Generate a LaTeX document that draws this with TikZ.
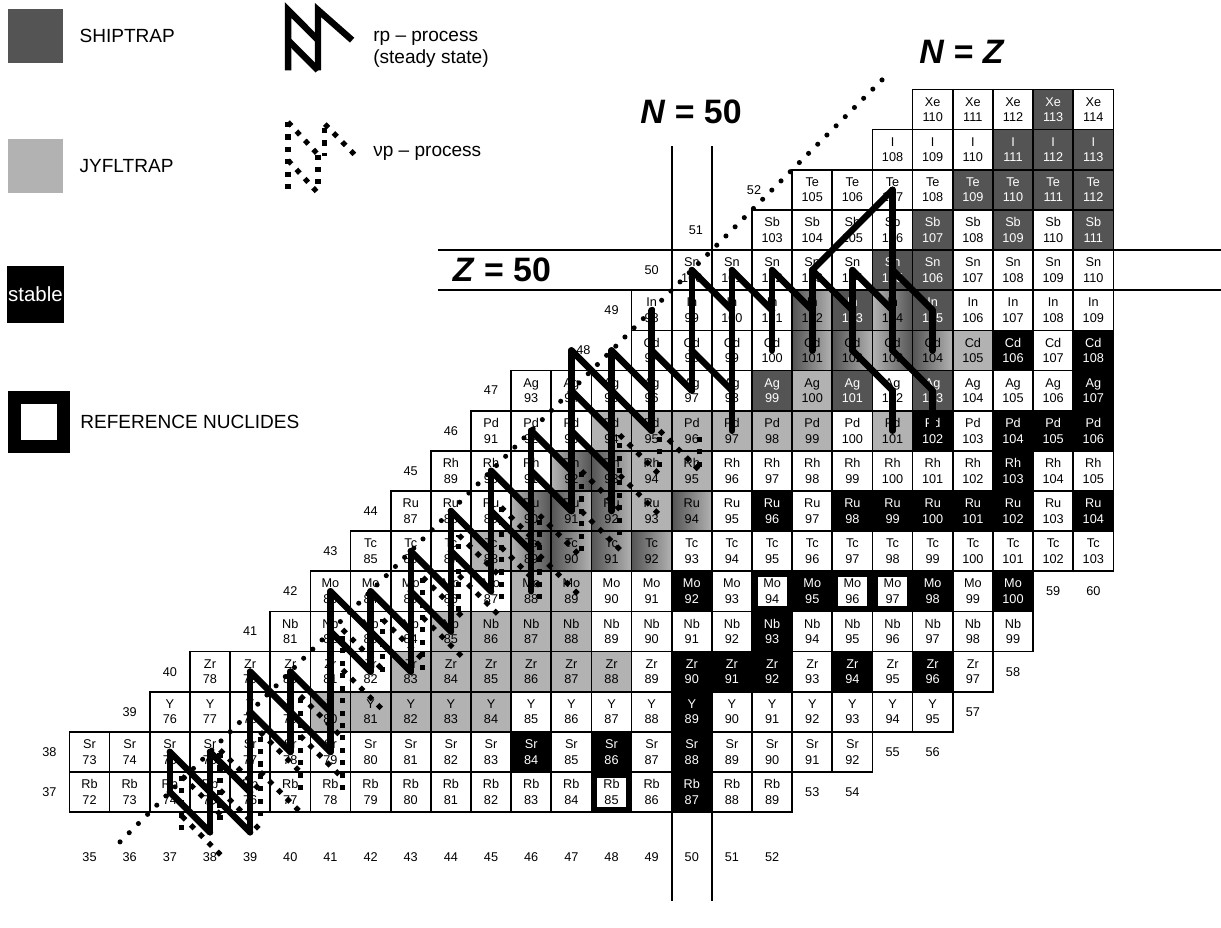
\documentclass[tikz,border=0pt]{standalone}
\usepackage{fontspec}
\setmainfont{Liberation Sans}
\usepackage{xcolor}
\usepackage{tikz}
\usetikzlibrary{positioning}

\definecolor{shiptrap}{gray}{0.33}
\definecolor{jyfltrap}{gray}{0.70}
\newcommand{\elsym}[1]{\ifcase\numexpr#1-37\relax Rb\or Sr\or Y\or Zr\or Nb\or Mo\or Tc\or Ru\or Rh\or Pd\or Ag\or Cd\or In\or Sn\or Sb\or Te\or I\or Xe\fi}
\newcommand{\nuc}[3][]{%
  \pgfmathtruncatemacro{\nucmass}{#2+#3}%
  \node (n#2-#3) [nucbox, #1] at (#2,#3) {\elsym{#3}\\\nucmass};}

\begin{document}
\begin{tikzpicture}[>=stealth]
    \tikzstyle{nucbox}    = [rectangle, draw=black, line width=1.2pt, fill=white, minimum width=1cm, minimum height=1cm, inner sep=0pt, outer sep=0pt, align=center, font=\fontsize{9}{11}\selectfont]
    \tikzstyle{jyfl}      = [fill=jyfltrap]
    \tikzstyle{ship}      = [fill=shiptrap, text=white]
    \tikzstyle{stablebox} = [fill=black, text=white]
    \tikzstyle{gradLD}    = [left color=jyfltrap, right color=shiptrap]
    \tikzstyle{gradDL}    = [left color=shiptrap, right color=jyfltrap]
    \tikzstyle{refbox}    = [minimum width=0.86cm, minimum height=0.86cm, line width=0.14cm]
    \tikzstyle{axislabel} = [font=\fontsize{9}{11}\selectfont]
    \tikzstyle{keytext}   = [font=\fontsize{13.5}{15.6}\selectfont, inner sep=0pt, align=left]
    \tikzstyle{magic}     = [font=\bfseries\fontsize{24}{28}\selectfont]
    \tikzstyle{rpline}    = [line width=4.6pt, line cap=round, line join=round]
    \tikzstyle{nupline}   = [line width=3.6pt, dash pattern=on 3.6pt off 5.2pt]
    \tikzstyle{nzline}    = [line width=3.6pt, line cap=round, dash pattern=on 0pt off 9.2pt]
    \tikzstyle{shellline} = [line width=1.2pt]

    \useasboundingbox (0,0) rectangle (30.41,23.09);

    \node (shipkey) [minimum width=1.37cm, minimum height=1.345cm, fill=shiptrap] at (0.884,22.19) {};
    \node (shiptext) [keytext, right=0.4cm of shipkey] {SHIPTRAP};
    \node (jyflkey) [minimum width=1.37cm, minimum height=1.345cm, fill=jyfltrap] at (0.884,18.95) {};
    \node (jyfltext) [keytext, right=0.4cm of jyflkey] {JYFLTRAP};
    \node (stablekey) [fill=black, text=white, minimum width=1.42cm, minimum height=1.42cm, inner sep=0pt, font=\fontsize{14.5}{16}\selectfont] at (0.884,15.754) {stable};
    \node (refkey) [draw=black, line width=0.324cm, minimum size=1.22cm, inner sep=0pt] at (0.971,12.578) {};
    \node (reftext) [keytext, right=0.25cm of refkey] {REFERENCE NUCLIDES};

    \draw[rpline, line cap=butt, line join=miter] (7.173,21.34) -- (7.173,22.84) -- (7.92,22.09);
    \draw[rpline, line cap=butt] (7.173,22.09) -- (7.92,21.34);
    \draw[rpline, line cap=butt, line join=miter] (7.92,21.34) -- (7.92,22.84) -- (8.77,22.09);
    \node (rptext) [keytext, anchor=west] at (9.29,21.87) {rp – process\\(steady state)};

    \draw[nupline] (7.173,20.05) -- (7.173,18.28);
    \draw[nupline] (7.173,20.05) -- (7.92,19.24);
    \draw[nupline] (7.173,19.10) -- (7.92,18.28);
    \draw[nupline] (7.92,19.24) -- (7.92,18.45);
    \draw[nupline] (8.09,19.90) -- (8.09,19.20);
    \draw[nupline] (8.09,20.00) -- (8.89,19.18);
    \node (nutext) [keytext, anchor=west] at (9.29,19.28) {νp – process};

    \begin{scope}[shift={(-32.77,-33.638)}]
        \foreach \z/\na/\nb in {37/35/52, 38/35/54, 39/37/56, 40/38/57, 41/40/58, 42/41/58, 43/42/60, 44/43/60, 45/44/60,
                                46/45/60, 47/46/60, 48/49/60, 49/49/60, 50/50/60, 51/52/60, 52/53/60, 53/55/60, 54/56/60}
            \foreach \n in {\na,...,\nb}
                \nuc{\n}{\z};

        \foreach \n/\z in {41/39, 42/39, 43/39, 44/39, 45/39, 43/40, 44/40, 45/40, 46/40, 47/40, 48/40,
                           44/41, 45/41, 46/41, 47/41, 46/42, 47/42, 45/43, 49/44, 49/45, 50/45,
                           48/46, 49/46, 50/46, 51/46, 52/46, 53/46, 55/46, 53/47, 57/48}
            \nuc[jyfl]{\n}{\z};
        \foreach \n/\z in {52/47, 54/47, 56/47, 54/49, 56/49, 55/50, 56/50, 56/51, 58/51, 60/51,
                           57/52, 58/52, 59/52, 60/52, 58/53, 59/53, 60/53, 59/54}
            \nuc[ship]{\n}{\z};
        \foreach \n/\z in {50/37, 46/38, 48/38, 50/38, 50/39, 50/40, 51/40, 52/40, 54/40, 56/40, 52/41,
                           50/42, 53/42, 56/42, 58/42, 52/44, 54/44, 55/44, 56/44, 57/44, 58/44, 60/44,
                           58/45, 56/46, 58/46, 59/46, 60/46, 60/47, 58/48, 60/48}
            \nuc[stablebox]{\n}{\z};
        \foreach \n/\z in {47/45, 46/44, 46/43, 55/48, 55/49}
            \nuc[gradLD]{\n}{\z};
        \foreach \n/\z in {48/45, 47/44, 48/44, 50/44, 47/43, 48/43, 49/43, 53/48, 54/48, 56/48, 53/49}
            \nuc[gradDL]{\n}{\z};
        \foreach \n/\z in {48/37, 52/42, 54/42, 55/42}
            \nuc[refbox]{\n}{\z};

        \foreach \n in {35,...,52}
            \node (nl\n) [axislabel] at (\n,35.39) {\n};
        \foreach \n/\z in {53/37, 54/37, 55/38, 56/38, 57/39, 58/40, 59/42, 60/42}
            \node (nr\n) [axislabel] at (\n,\z) {\n};
        \foreach \z/\x in {37/34, 38/34, 39/36, 40/37, 41/39, 42/40, 43/41, 44/42, 45/43, 46/44, 47/45,
                           48/47.3, 49/48, 50/49, 51/50.1, 52/51.55}
            \node (zl\z) [axislabel] at (\x,\z) {\z};

        \draw[shellline] (49.5,34.3) -- (49.5,53.1);
        \draw[shellline] (50.5,34.3) -- (50.5,53.1);
        \draw[shellline] (43.67,49.5) -- (63.2,49.5);
        \draw[shellline] (43.67,50.5) -- (63.2,50.5);

        \draw[nzline] (35.76,35.76) -- (54.87,54.87);

        \foreach \x/\za/\zb/\nd in {37.3/36.05/37.4/2, 38.25/36.3/38.05/2, 39.25/36.4/38.5/2, 40.25/37.05/39.4/2,
                                    41.3/37.05/41.05/2, 42.3/40/41.3/1, 43.3/40.05/42.35/2, 44.2/41.5/43.4/2,
                                    45.25/41.8/44.1/2, 46.2/41.8/43.9/2, 47.25/43/45/2, 48.2/43.4/45.9/2,
                                    49.2/45.1/46/1, 50.2/45.1/46/0} {
            \draw[nupline] (\x,\za) -- (\x,\zb);
            \ifnum\nd>0 \draw[nupline] (\x,\zb) -- ++(1,-1); \fi
            \ifnum\nd>1 \draw[nupline] (\x,\zb-1) -- ++(1,-1); \fi
        }

        \foreach \n/\za/\zb in {37/37/38, 38/36/38, 39/36/40, 40/38/40, 41/38/42, 42/40/42, 43/40/43, 44/41/44,
                                45/42/45, 46/42/46, 47/44/48, 48/44/48, 49/46/49, 50/47/50, 51/46/50, 52/48/50,
                                53/48/50, 54/48/50, 55/48/52, 55/46/47, 56/48/49, 56/46/47}
            \draw[rpline] (\n,\za) -- (\n,\zb);
        \foreach \n/\z in {37/38, 37/37, 38/38, 38/37, 39/40, 39/39, 40/40, 40/39, 41/42, 41/41, 42/42, 42/41,
                           43/43, 43/42, 44/44, 44/43, 45/45, 45/44, 46/46, 46/45, 47/48, 47/47, 47/46,
                           48/48, 48/47, 49/48, 50/50, 50/48, 51/50, 52/50, 53/50, 54/50, 54/48, 55/50, 55/48}
            \draw[rpline] (\n,\z) -- ++(1,-1);
        \draw[rpline] (53,50) -- (55,52);
    \end{scope}

    \node (magicN) [magic] at (17.21,20.30) {\textit{N} = 50};
    \node (magicZ) [magic] at (12.50,16.36) {\textit{Z} = 50};
    \node (nzlabel) [magic] at (23.96,21.79) {\textit{N} = \textit{Z}};
\end{tikzpicture}
\end{document}
